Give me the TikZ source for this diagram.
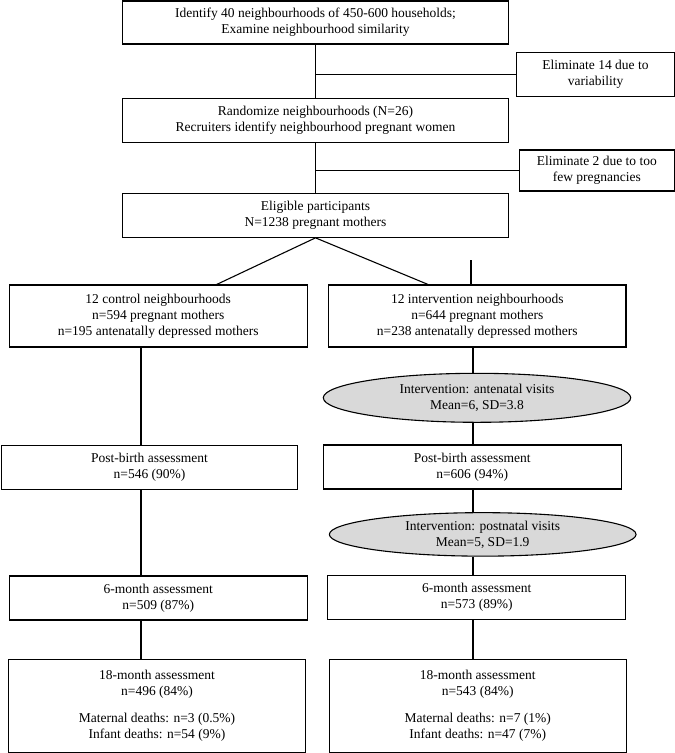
\documentclass[tikz,border=0pt]{standalone}
\usepackage{fontspec}
\setmainfont{Liberation Serif}
\usepackage{tikz}
\usetikzlibrary{shapes.geometric}
\definecolor{visitgray}{RGB}{217,217,217}
\tikzset{
	box/.style={draw, align=center, inner sep=0pt, minimum height=44bp},
	visit/.style={ellipse, draw, fill=visitgray, align=center, inner sep=0pt},
}

\begin{document}
\begin{tikzpicture}[x=1bp, y=-1bp, line width=1.1pt, font=\fontsize{13.5bp}{16bp}\selectfont]
			\useasboundingbox (0,0) rectangle (675,753);
			% enrolment
			\node[box, minimum width=385.6bp, minimum height=43bp] (top) at (315.5,22.5) {Identify 40 neighbourhoods of 450-600 households;\\Examine neighbourhood similarity};
			\node[box, minimum width=157.6bp, minimum height=43.7bp] (elimA) at (595.5,74.2) {Eliminate 14 due to\\variability};
			\node[box, minimum width=385.6bp] (rand) at (315.5,120.3) {Randomize neighbourhoods (N=26)\\Recruiters identify neighbourhood pregnant women};
			\node[box, minimum width=155bp, minimum height=41bp] (elimB) at (596.8,170.5) {Eliminate 2 due to too\\few pregnancies};
			\node[box, minimum width=385.6bp] (elig) at (315.5,215.3) {Eligible participants\\N=1238 pregnant mothers};
			% arms
			\node[box, minimum width=297.7bp, minimum height=62bp] (ctrl) at (158.2,316) {12 control neighbourhoods\\n=594 pregnant mothers\\n=195 antenatally depressed mothers};
			\node[box, minimum width=297.3bp, minimum height=62bp] (intv) at (477.3,316) {12 intervention neighbourhoods\\n=644 pregnant mothers\\n=238 antenatally depressed mothers};
			\node[visit, minimum width=307.4bp, minimum height=49bp] (anteV) at (477,397.8) {Intervention: antenatal visits\\Mean=6, SD=3.8};
			\node[box, minimum width=296.7bp] (postC) at (149.5,467.2) {Post-birth assessment\\n=546 (90\%)};
			\node[box, minimum width=297.7bp] (postI) at (472.2,467) {Post-birth assessment\\n=606 (94\%)};
			\node[visit, minimum width=306.7bp, minimum height=43.5bp] (postV) at (482.7,534.4) {Intervention: postnatal visits\\Mean=5, SD=1.9};
			\node[box, minimum width=298bp] (sixC) at (158.3,598) {6-month assessment\\n=509 (87\%)};
			\node[box, minimum width=298bp] (sixI) at (476.7,597.5) {6-month assessment\\n=573 (89\%)};
			\node[box, minimum width=297.4bp, minimum height=93.4bp] (eightC) at (157,706) {18-month assessment\\n=496 (84\%)\\[11bp]Maternal deaths: n=3 (0.5\%)\\Infant deaths: n=54 (9\%)};
			\node[box, minimum width=296.7bp, minimum height=93.4bp] (eightI) at (477.7,706) {18-month assessment\\n=543 (84\%)\\[11bp]Maternal deaths: n=7 (1\%)\\Infant deaths: n=47 (7\%)};
			% connectors
			\draw (top.south) -- (rand.north);
			\draw (elimA.west) -- (elimA.west -| top.south);
			\draw (rand.south) -- (elig.north);
			\draw (elimB.west) -- (elimB.west -| rand.south);
			\draw (elig.south) -- ([xshift=58.5bp]ctrl.north);
			\draw (elig.south) -- ([xshift=-49.3bp]intv.north);
			\coordinate (stub) at (471,260);
			\draw (stub) -- (stub |- intv.north);
			\coordinate (colC) at (141,0);
			\coordinate (colI) at (473,0);
			\foreach \a/\b in {ctrl/postC, postC/sixC, sixC/eightC}
				\draw (\a.south -| colC) -- (\b.north -| colC);
			\foreach \a/\b in {intv/anteV, anteV/postI, postI/postV, postV/sixI, sixI/eightI}
				\draw (\a.south -| colI) -- (\b.north -| colI);
\end{tikzpicture}
\end{document}
